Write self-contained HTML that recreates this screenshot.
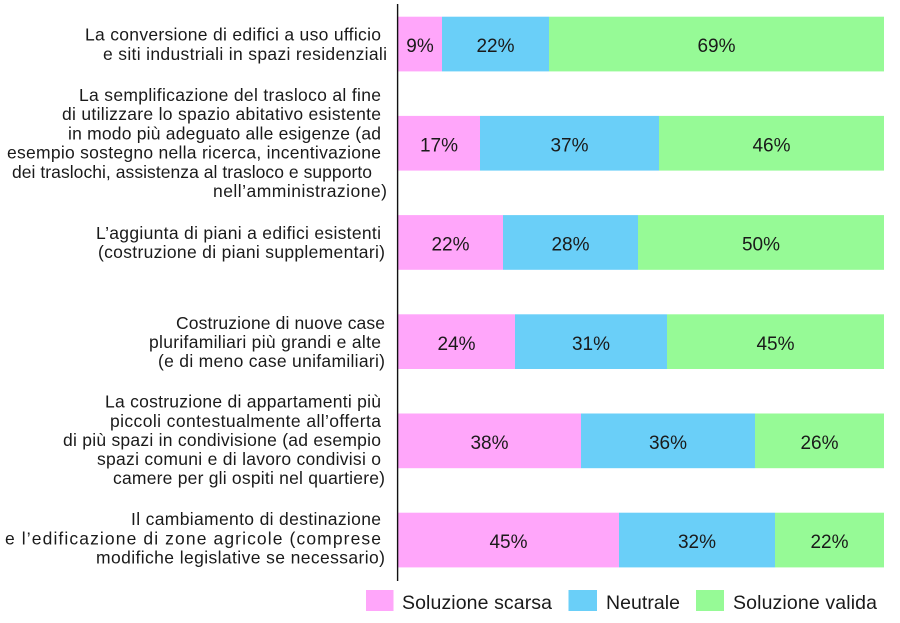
<!DOCTYPE html>
<html>
<head>
<meta charset="utf-8">
<style>
html,body{margin:0;padding:0;background:#fff;}
svg{display:block;}
text{font-family:"Liberation Sans",Arial,sans-serif;fill:#1a1a1a;}
</style>
</head>
<body>
<svg width="900" height="623" viewBox="0 0 900 623" xmlns="http://www.w3.org/2000/svg">
<rect x="0" y="0" width="900" height="623" fill="#fff"/>

<!-- Bars -->
<g>
  <rect x="398" y="16.7" width="44" height="54.7" fill="#FFA6FA"/>
  <rect x="442" y="16.7" width="107" height="54.7" fill="#6ACFF8"/>
  <rect x="549" y="16.7" width="335" height="54.7" fill="#96FA96"/>

  <rect x="398" y="115.9" width="82" height="54.7" fill="#FFA6FA"/>
  <rect x="480" y="115.9" width="179" height="54.7" fill="#6ACFF8"/>
  <rect x="659" y="115.9" width="225" height="54.7" fill="#96FA96"/>

  <rect x="398" y="215.1" width="105" height="54.7" fill="#FFA6FA"/>
  <rect x="503" y="215.1" width="135" height="54.7" fill="#6ACFF8"/>
  <rect x="638" y="215.1" width="246" height="54.7" fill="#96FA96"/>

  <rect x="398" y="314.3" width="117" height="54.7" fill="#FFA6FA"/>
  <rect x="515" y="314.3" width="152" height="54.7" fill="#6ACFF8"/>
  <rect x="667" y="314.3" width="217" height="54.7" fill="#96FA96"/>

  <rect x="398" y="413.5" width="183" height="54.7" fill="#FFA6FA"/>
  <rect x="581" y="413.5" width="174" height="54.7" fill="#6ACFF8"/>
  <rect x="755" y="413.5" width="129" height="54.7" fill="#96FA96"/>

  <rect x="398" y="512.7" width="221" height="54.7" fill="#FFA6FA"/>
  <rect x="619" y="512.7" width="156" height="54.7" fill="#6ACFF8"/>
  <rect x="775" y="512.7" width="109" height="54.7" fill="#96FA96"/>
</g>

<!-- Percent labels -->
<g font-size="19" text-anchor="middle">
  <text x="420" y="52.2">9%</text>
  <text x="495.5" y="52.2">22%</text>
  <text x="716.5" y="52.2">69%</text>

  <text x="439" y="151.4">17%</text>
  <text x="569.5" y="151.4">37%</text>
  <text x="771.5" y="151.4">46%</text>

  <text x="450.5" y="250.6">22%</text>
  <text x="570.5" y="250.6">28%</text>
  <text x="761" y="250.6">50%</text>

  <text x="456.5" y="349.8">24%</text>
  <text x="591" y="349.8">31%</text>
  <text x="775.5" y="349.8">45%</text>

  <text x="489.5" y="449">38%</text>
  <text x="668" y="449">36%</text>
  <text x="819.5" y="449">26%</text>

  <text x="508.5" y="548.2">45%</text>
  <text x="697" y="548.2">32%</text>
  <text x="829.5" y="548.2">22%</text>
</g>

<!-- Axis line -->
<line x1="397.6" y1="4" x2="397.6" y2="581" stroke="#111" stroke-width="1.4"/>

<!-- Category labels -->
<g font-size="17.5">
  <text x="85" y="40.6" textLength="296" lengthAdjust="spacing">La conversione di edifici a uso ufficio</text>
  <text x="103" y="59.8" textLength="284" lengthAdjust="spacing">e siti industriali in spazi residenziali</text>

  <text x="79" y="101" textLength="302" lengthAdjust="spacing">La semplificazione del trasloco al fine</text>
  <text x="62" y="120.2" textLength="319" lengthAdjust="spacing">di utilizzare lo spazio abitativo esistente</text>
  <text x="68" y="139.4" textLength="313" lengthAdjust="spacing">in modo più adeguato alle esigenze (ad</text>
  <text x="7" y="158.6" textLength="374" lengthAdjust="spacing">esempio sostegno nella ricerca, incentivazione</text>
  <text x="12" y="177.8" textLength="360" lengthAdjust="spacing">dei traslochi, assistenza al trasloco e supporto</text>
  <text x="213" y="197" textLength="174" lengthAdjust="spacing">nell’amministrazione)</text>

  <text x="96" y="238.8" textLength="285" lengthAdjust="spacing">L’aggiunta di piani a edifici esistenti</text>
  <text x="98" y="258" textLength="287" lengthAdjust="spacing">(costruzione di piani supplementari)</text>

  <text x="176" y="328.8" textLength="209" lengthAdjust="spacing">Costruzione di nuove case</text>
  <text x="149" y="348" textLength="232" lengthAdjust="spacing">plurifamiliari più grandi e alte</text>
  <text x="158" y="367.2" textLength="227" lengthAdjust="spacing">(e di meno case unifamiliari)</text>

  <text x="105" y="407.7" textLength="276" lengthAdjust="spacing">La costruzione di appartamenti più</text>
  <text x="110" y="426.8" textLength="271" lengthAdjust="spacing">piccoli contestualmente all’offerta</text>
  <text x="63" y="445.9" textLength="318" lengthAdjust="spacing">di più spazi in condivisione (ad esempio</text>
  <text x="97" y="465" textLength="284" lengthAdjust="spacing">spazi comuni e di lavoro condivisi o</text>
  <text x="113" y="484.1" textLength="272" lengthAdjust="spacing">camere per gli ospiti nel quartiere)</text>

  <text x="131" y="525.2" textLength="250" lengthAdjust="spacing">Il cambiamento di destinazione</text>
  <text x="5" y="544.4" textLength="376" lengthAdjust="spacing">e l’edificazione di zone agricole (comprese</text>
  <text x="96" y="563.6" textLength="289" lengthAdjust="spacing">modifiche legislative se necessario)</text>
</g>

<!-- Legend -->
<g>
  <rect x="366" y="590" width="27.5" height="21" fill="#FFA6FA"/>
  <text x="402" y="609" font-size="19.5" textLength="150" lengthAdjust="spacing">Soluzione scarsa</text>
  <rect x="568.5" y="590" width="28.5" height="21" fill="#6ACFF8"/>
  <text x="606" y="609" font-size="19.5" textLength="74" lengthAdjust="spacing">Neutrale</text>
  <rect x="696" y="590" width="28" height="21" fill="#96FA96"/>
  <text x="733" y="609" font-size="19.5" textLength="144" lengthAdjust="spacing">Soluzione valida</text>
</g>
</svg>
</body>
</html>
